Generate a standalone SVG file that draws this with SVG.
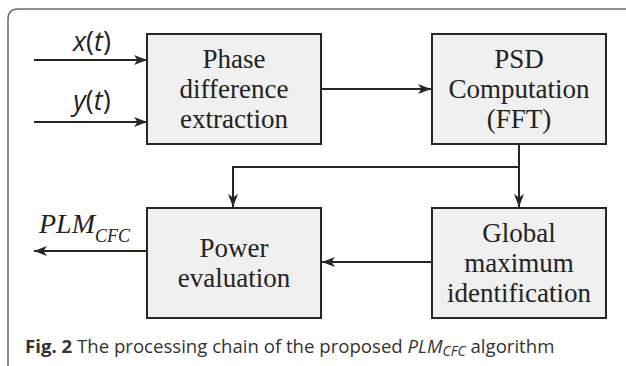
<svg xmlns="http://www.w3.org/2000/svg" width="626" height="366" viewBox="0 0 626 366">
  <style>
    .frame { fill: none; stroke: #6a6a6a; stroke-width: 1.5; }
    .box { fill: #f0f0f0; stroke: #262626; stroke-width: 2; }
    .wire { fill: none; stroke: #262626; stroke-width: 2; }
    .lbl { font-family: "Liberation Serif", serif; font-size: 27px; fill: #222; text-anchor: middle; }
    .sig { font-family: "Open Sans", "Noto Sans", sans-serif; font-size: 27px; fill: #222; text-anchor: middle; }
    .out { font-family: "Liberation Serif", serif; font-style: italic; fill: #222; }
    .cap { font-family: "Open Sans", "Noto Sans", sans-serif; font-size: 18.6px; fill: #333; }
  </style>
  <defs>
    <marker id="arrow" markerUnits="userSpaceOnUse" markerWidth="14" markerHeight="12" refX="13" refY="5" orient="auto">
      <path d="M0,0 L13,5 L0,10 L3.5,5 z" fill="#262626"/>
    </marker>
  </defs>

  <!-- panel frame: rounded top-left corner, open to the right and bottom -->
  <path class="frame" d="M626,9 H18 Q8,9 8,19 V366"/>

  <!-- connectors -->
  <g id="connectors">
    <line class="wire" x1="34" y1="60" x2="147" y2="60" marker-end="url(#arrow)"/>
    <line class="wire" x1="34" y1="122" x2="147" y2="122" marker-end="url(#arrow)"/>
    <line class="wire" x1="321" y1="89" x2="431" y2="89" marker-end="url(#arrow)"/>
    <line class="wire" x1="519" y1="144" x2="519" y2="207" marker-end="url(#arrow)"/>
    <polyline class="wire" points="519,167 233,167 233,207" marker-end="url(#arrow)"/>
    <line class="wire" x1="431" y1="262" x2="322" y2="262" marker-end="url(#arrow)"/>
    <line class="wire" x1="147" y1="251" x2="34" y2="251" marker-end="url(#arrow)"/>
    <text class="sig" x="92" y="51"><tspan font-style="italic">x</tspan>(<tspan font-style="italic">t</tspan>)</text>
    <text class="sig" x="92" y="110"><tspan font-style="italic">y</tspan>(<tspan font-style="italic">t</tspan>)</text>
    <text class="out" x="39" y="233" font-size="28px">PLM<tspan font-size="18px" dy="9">CFC</tspan></text>
  </g>

  <g id="phase">
    <rect class="box" x="147" y="34" width="174" height="110"/>
    <text class="lbl" x="234" y="68">Phase</text>
    <text class="lbl" x="234" y="98">difference</text>
    <text class="lbl" x="234" y="128">extraction</text>
  </g>

  <g id="psd">
    <rect class="box" x="432" y="34" width="174" height="110"/>
    <text class="lbl" x="519" y="68">PSD</text>
    <text class="lbl" x="519" y="98">Computation</text>
    <text class="lbl" x="519" y="128">(FFT)</text>
  </g>

  <g id="power">
    <rect class="box" x="147" y="208" width="174" height="110"/>
    <text class="lbl" x="234" y="257">Power</text>
    <text class="lbl" x="234" y="287">evaluation</text>
  </g>

  <g id="global">
    <rect class="box" x="432" y="208" width="174" height="110"/>
    <text class="lbl" x="519" y="242">Global</text>
    <text class="lbl" x="519" y="272">maximum</text>
    <text class="lbl" x="519" y="302">identification</text>
  </g>

  <text class="cap" x="25" y="353"><tspan font-weight="bold">Fig. 2</tspan> The processing chain of the proposed <tspan font-style="italic">PLM<tspan font-size="14px" dy="3">CFC</tspan></tspan><tspan dy="-3"> algorithm</tspan></text>
</svg>
